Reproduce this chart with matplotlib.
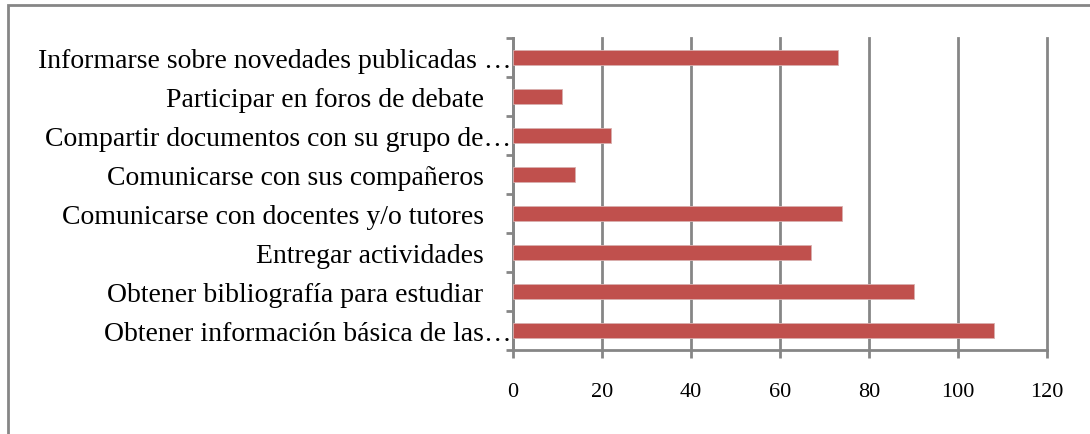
import matplotlib.pyplot as plt
from matplotlib.patches import Rectangle

# usage categories, bottom to top as drawn
categories = [
    "Obtener información básica de las…",
    "Obtener bibliografía para estudiar    ",
    "Entregar actividades    ",
    "Comunicarse con docentes y/o tutores    ",
    "Comunicarse con sus compañeros    ",
    "Compartir documentos con su grupo de…",
    "Participar en foros de debate    ",
    "Informarse sobre novedades publicadas …",
]
values = [108, 90, 67, 74, 14, 22, 11, 73]
x_ticks = [0, 20, 40, 60, 80, 100, 120]

plt.rcParams['font.family'] = ['Liberation Serif', 'DejaVu Serif']

fig = plt.figure(figsize=(10.9, 4.35), dpi=100)
ax = fig.add_axes([0.4706, 0.1931, 0.4900, 0.7172])

grey = "#868686"
pos = list(range(len(categories)))
ax.barh(pos, values, height=0.39, color="#C0504D", edgecolor="#D9AFAE",
        linewidth=0.6, zorder=3)

ax.set_xlim(0, 120)
ax.set_ylim(-0.5, len(categories) - 0.5)
ax.set_xticks(x_ticks)
ax.set_xticklabels([str(v) for v in x_ticks], fontsize=16)
ax.xaxis.grid(True, color=grey, linewidth=2, zorder=0)
for line in ax.get_xgridlines():
    line.set_clip_on(False)

ax.set_yticks(pos)
ax.set_yticklabels(categories, fontsize=20)
ax.set_yticks([p - 0.5 for p in pos] + [len(categories) - 0.5], minor=True)
ax.tick_params(axis='y', which='major', length=0, pad=1)
ax.tick_params(axis='y', which='minor', length=5, width=2, color=grey)
ax.tick_params(axis='x', length=6, width=2, color=grey, pad=17)

for side in ("top", "right"):
    ax.spines[side].set_visible(False)
for side in ("left", "bottom"):
    ax.spines[side].set_color(grey)
    ax.spines[side].set_linewidth(2)

# outer chart border, running off the right and bottom edges
fig.patches.append(Rectangle((8 / 1090, -0.2), 1.2, 1.2 - 6 / 435,
                             transform=fig.transFigure, fill=False,
                             edgecolor=grey, linewidth=2))

fig.savefig("out.png", dpi=100)
